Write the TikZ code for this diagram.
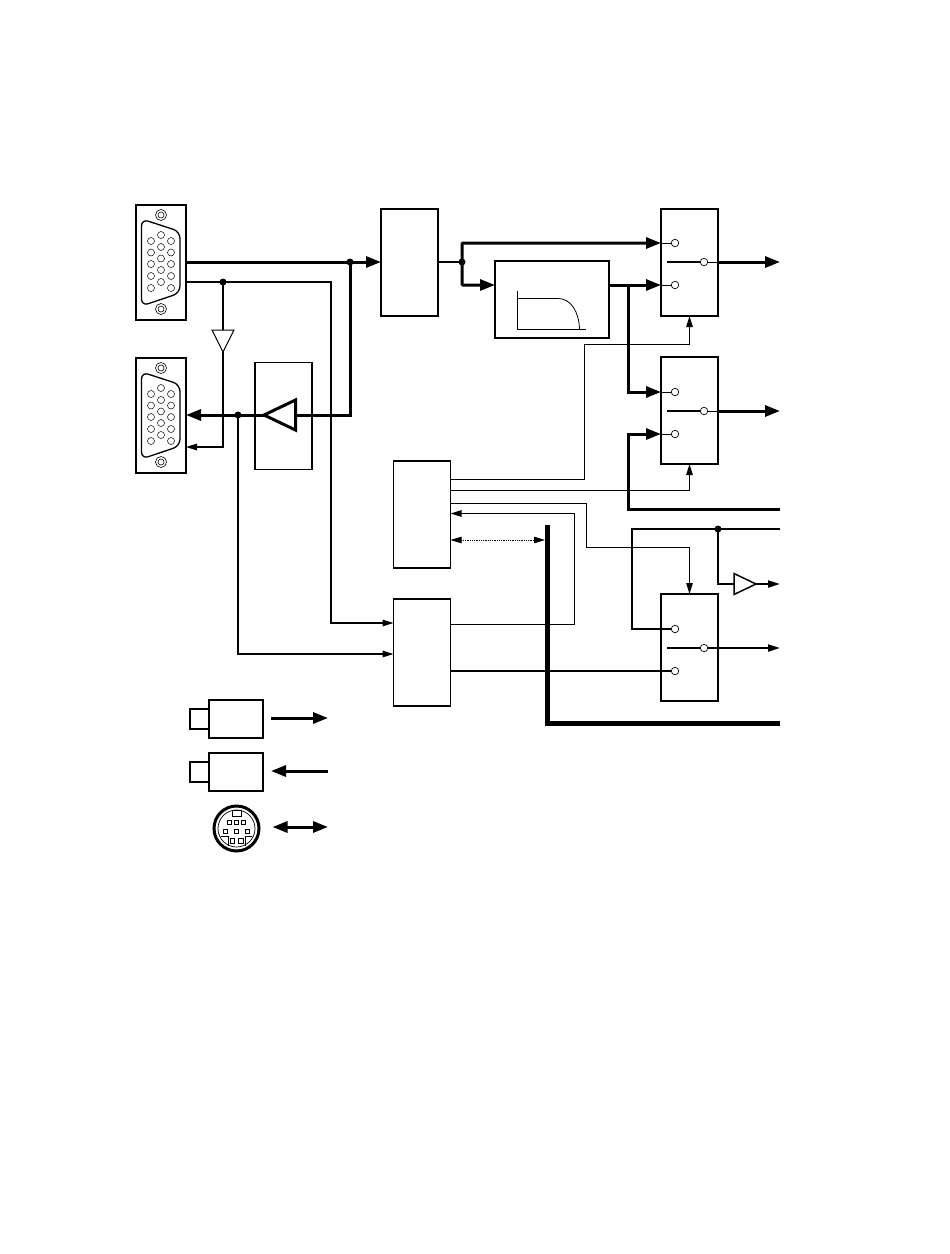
\documentclass[tikz,border=0pt]{standalone}
\usepackage{tikz}
\usetikzlibrary{shapes.geometric,calc,positioning,arrows.meta}

\begin{document}
\begin{tikzpicture}[
  x=1bp, y=-1bp,
  blk/.style={rectangle, draw=black, fill=white, line width=1.5bp, inner sep=0pt, outer sep=0pt},
  tall/.style={blk, minimum width=57bp, minimum height=107bp},
  cam/.style={blk, minimum width=54bp, minimum height=38bp},
  lens/.style={blk, minimum width=19bp, minimum height=20bp},
  pin/.style={circle, draw=black, fill=white, line width=0.7bp, minimum size=7.5bp, inner sep=0pt, outer sep=0pt},
  tiny/.style={circle, draw=black, fill=white, line width=0.5bp, minimum size=7bp, inner sep=0pt},
  dot/.style={circle, fill=black, minimum size=7bp, inner sep=0pt},
  amp/.style={isosceles triangle, isosceles triangle stretches, draw=black, fill=white, inner sep=0pt, outer sep=0pt},
  harr/.style={-{Triangle[length=15bp, width=11bp]}, line width=3bp},
  marr/.style={-{Triangle[length=12bp, width=7bp]}, line width=2bp},
  tarr/.style={-{Triangle[length=11bp, width=6.5bp]}, line width=1bp},
  hline/.style={line width=3bp},
  mline/.style={line width=2bp},
  tline/.style={line width=1bp},
]
  \useasboundingbox (0,0) rectangle (950,1254);

  % Connectors
  \node[blk, minimum width=50bp, minimum height=115bp] (vgain) at (161,262.5) {};
  \node[blk, minimum width=50bp, minimum height=115bp] (vgaout) at (161,415.5) {};
  \foreach \s in {0,153} {
    \begin{scope}[shift={(0,\s)}]
      \draw[line width=1.3bp, rounded corners=7bp] (141.5,219) -- (180,231.5) -- (180,293) -- (141.5,306) -- cycle;
      \foreach \py in {215,309} {
        \draw[line width=0.6bp] (161,\py) circle (5.5bp);
        \draw[line width=0.6bp] (161,\py) circle (3bp);
      }
      \foreach \py in {241,252.5,264,276,288} {
        \node[tiny] at (151,\py) {};
        \node[tiny] at (171,\py) {};
      }
      \foreach \py in {235,247,258.5,270,282} {
        \node[tiny] at (161,\py) {};
      }
    \end{scope}
  }

  % Blocks
  \node[tall] (adc) at (409.5,262.5) {};
  \node[blk, minimum width=114bp, minimum height=77bp] (filt) at (552,299.5) {};
  \node[tall] (bufbox) at (283.5,416) {};
  \node[tall] (ctrl) at (422,514.5) {};
  \node[tall] (sync) at (422,652.5) {};
  \node[tall] (swa) at (689.5,262.5) {};
  \node[tall] (swb) at (689.5,410.5) {};
  \node[tall] (swc) at (689.5,647.5) {};

  % Filter curve
  \draw[line width=0.8bp] (517,291) -- (517,329) -- (586,329);
  \draw[line width=0.8bp] (517,298.5) -- (558,298.5) .. controls (571,298.5) and (579,312) .. (579.5,329);

  % Switch contacts
  \foreach \n/\y in {a/243,b/285} \node[pin] (swa\n) at (675,\y) {};
  \foreach \n/\y in {a/392,b/434} \node[pin] (swb\n) at (675,\y) {};
  \foreach \n/\y in {a/629,b/671} \node[pin] (swc\n) at (675,\y) {};
  \node[pin] (swao) at (704,262) {};
  \node[pin] (swbo) at (704,411) {};
  \node[pin] (swco) at (704,648) {};
  \foreach \n in {a,b,c} {
    \draw[mline] (sw\n o.west) -- ++(-33,0);
    \draw[tline] (sw\n o.east) -- ++(10,0);
  }

  % Amplifiers
  \node[amp, line width=1bp, shape border rotate=270, minimum width=22bp, minimum height=22bp, anchor=apex] (ampa) at (223,352) {};
  \node[amp, line width=3bp, shape border rotate=180, minimum width=30bp, minimum height=31.5bp, anchor=apex] (ampb) at (264,415) {};
  \node[amp, line width=1.5bp, minimum width=21bp, minimum height=22bp, anchor=apex] (ampc) at (756,584) {};

  % Junctions
  \node[dot] (ja) at (350,262) {};
  \node[dot] (jb) at (223,282) {};
  \node[dot] (jc) at (238,415) {};
  \node[dot] (jd) at (462,262) {};
  \node[dot] (je) at (718,529) {};
  \coordinate (jf) at (628,285);

  % Thick signal paths
  \draw[harr] (vgain.east |- ja) -- (adc.west |- ja);
  \draw[hline] (ja.center) |- (ampb.east);
  \draw[harr] (ampb.apex) -- (vgaout.east |- ampb.apex);
  \draw[line width=2bp] (adc.east |- jd) -- (jd.center);
  \draw[harr, rounded corners=1bp] (jd.center) |- (swa.west |- swaa);
  \draw[harr, rounded corners=1bp] (jd.center) |- (filt.west |- swab);
  \draw[harr] (filt.east |- swab) -- (swa.west |- swab);
  \draw[harr] (jf) |- (swb.west |- swba);
  \draw[harr] (780,509.5) -| (628,434) -- (swb.west |- swbb);
  \draw[harr] (swa.east |- swao) -- (780,262);
  \draw[harr] (swb.east |- swbo) -- (780,411);
  \foreach \n in {a,b} {
    \draw[tline] (sw\n.west |- sw\n a) -- (sw\n a.west);
    \draw[tline] (sw\n.west |- sw\n b) -- (sw\n b.west);
  }

  % Sync and control lines
  \draw[tarr, line width=1.3bp] (vgain.east |- jb) -- (331,282) -- (331,623) -- (sync.west |- 0,623);
  \draw[tarr, line width=1.3bp] (jc.center) -- (238,654) -- (sync.west |- 0,654);
  \draw[line width=1.3bp] (jb.center) -- (ampa.north);
  \draw[tarr, line width=1.3bp] (ampa.apex) |- (vgaout.east |- 0,447);
  \draw[tarr] (ctrl.east |- 0,479) -- (584,479) -- (584,344) -| (swa.south);
  \draw[tarr] (ctrl.east |- 0,490.5) -| (swb.south);
  \draw[tarr] (ctrl.east |- 0,503) -- (586,503) -- (586,547) -| (swc.north);
  \draw[tarr] (sync.east |- 0,624) -| (574,513.5) -- (ctrl.east |- 0,513.5);
  \draw[{Triangle[length=11bp, width=6.5bp]}-{Triangle[length=11bp, width=6.5bp]}, line width=0.8bp, densely dotted] (ctrl.east |- 0,540) -- (545,540);
  \draw[line width=5bp, miter limit=10] (547.5,525) |- (780,723);
  \draw[mline] (sync.east |- swcb) -- (swcb.west);
  \draw[mline] (780,529) -| (632,629) -- (swca.west);
  \draw[mline] (je.center) |- (ampc.west);
  \draw[marr] (ampc.apex) -- (780,584);
  \draw[marr] (swco.east) -- (780,648);

  % Legend
  \node[cam] (cama) at (236,719) {};
  \node[lens, left=0bp of cama] (lensa) {};
  \node[cam] (camb) at (236,772) {};
  \node[lens, left=0bp of camb] (lensb) {};
  \coordinate (outa) at (328,718);
  \coordinate (ina) at (328,771);
  \draw[harr] ($(cama.east)+(8,-1)$) -- (outa);
  \draw[harr] (ina) -- ($(camb.east)+(8,-1)$);

  % Mini DIN
  \node[circle, draw=black, line width=3bp, minimum size=45bp, inner sep=0pt] (din) at (236.5,828.5) {};
  \draw[line width=0.7bp] (din) circle (18.5bp);
  \draw[line width=1bp] (232,810) rectangle (241,816);
  \foreach \px/\py in {229.5/822.5,236.5/822.5,243.5/822.5,225.5/831.5,236.5/831.5,247.5/831.5,232.5/841,241/841} {
    \draw[line width=1bp] ($(\px,\py)+(-2.3,-2.3)$) rectangle ($(\px,\py)+(2.3,2.3)$);
  }
  \draw[line width=1bp] (221,836.5) -- (228,836.5) -- (228,846);
  \draw[line width=1bp] (252,836.5) -- (245.5,836.5) -- (245.5,846);
  \draw[{Triangle[length=15bp, width=11bp]}-{Triangle[length=15bp, width=11bp]}, line width=3bp] ($(din.east)+(12,-1.5)$) -- (328,827);
\end{tikzpicture}
\end{document}
